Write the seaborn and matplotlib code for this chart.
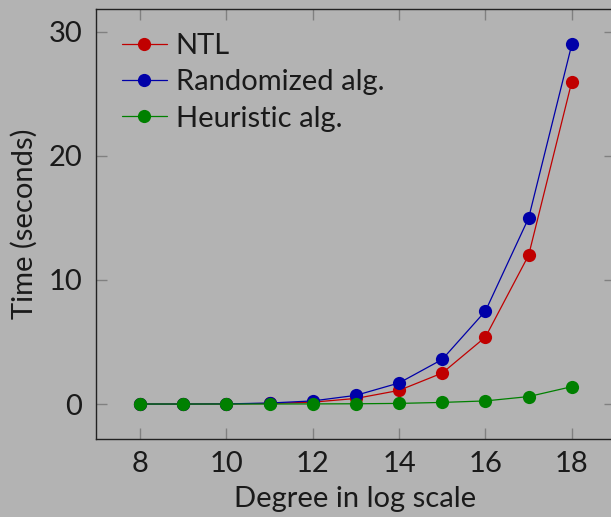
import numpy as np
import pandas as pd
import matplotlib
matplotlib.use("Agg")
import matplotlib.pyplot as plt
import seaborn as sns

# podaci ocitani s grafa
degree = [8, 9, 10, 11, 12, 13, 14, 15, 16, 17, 18]
ntl = [0.0, 0.0, 0.01, 0.05, 0.15, 0.45, 1.1, 2.5, 5.4, 12.0, 26.0]
randomized = [0.0, 0.0, 0.01, 0.08, 0.25, 0.7, 1.7, 3.6, 7.5, 15.0, 29.0]
heuristic = [0.0, 0.0, 0.0, 0.0, 0.01, 0.02, 0.05, 0.13, 0.25, 0.6, 1.4]
series_names = ["NTL", "Randomized alg.", "Heuristic alg."]
colors = ["#c00000", "#0000a8", "#008000"]

df = pd.DataFrame({
    "degree": degree * 3,
    "time": ntl + randomized + heuristic,
    "alg": [series_names[0]] * len(degree) + [series_names[1]] * len(degree)
           + [series_names[2]] * len(degree),
})

sns.set_theme(style="ticks")
plt.rcParams["font.family"] = ["Lato", "DejaVu Sans"]
bg = "#b3b3b3"
fs = 21

fig = plt.figure(figsize=(6.11, 5.17), dpi=100, facecolor=bg)
ax = fig.add_axes([96 / 611, 1 - 439 / 517, 519 / 611, 430 / 517])
ax.set_facecolor(bg)

sns.lineplot(data=df, x="degree", y="time", hue="alg", palette=colors,
             marker="o", markersize=9.5, markeredgewidth=0, linewidth=0.9,
             ax=ax)

ax.set_xlim(6.98, 19.0)
ax.set_ylim(-2.82, 31.85)
ax.set_xticks([8, 10, 12, 14, 16, 18])
ax.set_yticks([0, 10, 20, 30])
ax.tick_params(direction="in", length=8, width=1, color="#808080",
               top=True, right=True, labelsize=fs, labelcolor="#1a1a1a")
ax.tick_params(axis="x", pad=9)
ax.tick_params(axis="y", pad=10)
for s in ax.spines.values():
    s.set_color("#222222")
    s.set_linewidth(1)
ax.set_xlabel("Degree in log scale", fontsize=fs, labelpad=6, color="#1a1a1a")
ax.set_ylabel("Time (seconds)", fontsize=fs, labelpad=8, color="#1a1a1a")

leg = ax.legend(loc="upper left", frameon=False, fontsize=fs,
                handlelength=1.55, handletextpad=0.3, labelspacing=0.35,
                borderaxespad=0.0, bbox_to_anchor=(0.027, 0.971))
for t in leg.get_texts():
    t.set_color("#1a1a1a")

fig.savefig("out.png", dpi=100, facecolor=bg)
